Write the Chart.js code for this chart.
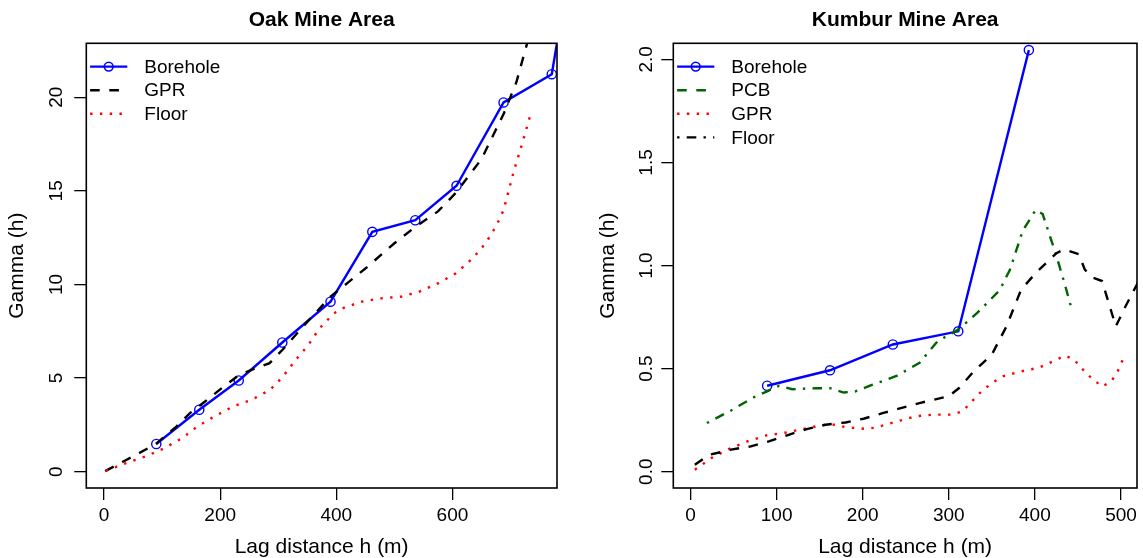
<!DOCTYPE html>
<html>
<head>
<meta charset="utf-8">
<script src="https://cdn.jsdelivr.net/npm/chart.js@4.4.1/dist/chart.umd.min.js"></script>
<style>
  html, body { margin: 0; padding: 0; background: #fff; }
  #wrap { position: relative; width: 1143px; height: 558px; }
  canvas { position: absolute; top: 0; }
</style>
</head>
<body>
<div id="wrap">
  <canvas id="oak" width="571" height="558" style="left:0"></canvas>
  <canvas id="kumbur" width="572" height="558" style="left:571px"></canvas>
</div>
<script>
// ---- Oak Mine Area ----
const oakXTicks = [0, 200, 400, 600];
const oakYTicks = [0, 5, 10, 15, 20];
const oakBoreholeX = [90, 164, 232, 307, 390, 462, 536, 607, 688, 771, 845];
const oakBoreholeY = [1.48, 3.31, 4.87, 6.9, 9.08, 12.81, 13.43, 15.27, 19.72, 21.23, 35];
const oakGprX = [2, 39, 71, 90, 125, 148, 174, 200, 232, 255, 285, 307, 350, 390, 420, 450, 500, 537, 575, 606, 650, 688, 710, 735];
const oakGprY = [0.03, 0.64, 1.17, 1.5, 2.42, 3.13, 3.75, 4.4, 5.15, 5.45, 5.8, 6.5, 8.0, 9.35, 10.1, 10.85, 12.2, 13.1, 13.9, 14.9, 16.7, 19.1, 20.8, 23.6];
const oakFloorX = [3, 38, 72, 104, 135, 160, 185, 223, 254, 286, 308, 330, 352, 371, 396, 411, 443, 477, 512, 543, 575, 606, 635, 657, 675, 688, 697, 706, 716, 725, 735];
const oakFloorY = [0.05, 0.46, 0.82, 1.26, 1.8, 2.4, 2.86, 3.5, 3.84, 4.37, 5.08, 5.97, 6.77, 7.66, 8.46, 8.73, 9.08, 9.26, 9.35, 9.62, 10.06, 10.6, 11.4, 12.2, 13.1, 13.97, 15.03, 16.1, 17.1, 18.06, 19.16];

// ---- Kumbur Mine Area ----
const kumXTicks = [0, 100, 200, 300, 400, 500];
const kumYTicks = [0, 0.5, 1, 1.5, 2];
const kumBoreholeX = [89, 162, 235, 311, 393];
const kumBoreholeY = [0.417, 0.492, 0.617, 0.681, 2.045];
const kumPcbX = [19, 47, 74, 89, 103, 118, 145, 162, 178, 191, 210, 240, 266, 287, 311, 333, 359, 371, 386, 401, 409, 424, 434, 442];
const kumPcbY = [0.236, 0.297, 0.362, 0.39, 0.417, 0.40, 0.405, 0.405, 0.384, 0.389, 0.42, 0.466, 0.528, 0.633, 0.689, 0.77, 0.88, 0.98, 1.17, 1.27, 1.25, 1.06, 0.92, 0.80];
const kumGprX = [5, 15, 24, 45, 66, 88, 111, 134, 157, 168, 180, 203, 214, 240, 262, 283, 304, 316, 325, 338, 350, 363, 384, 405, 425, 435, 445, 461, 478, 488, 495, 504];
const kumGprY = [0.01, 0.039, 0.066, 0.111, 0.147, 0.176, 0.19, 0.21, 0.229, 0.228, 0.216, 0.208, 0.213, 0.244, 0.269, 0.277, 0.277, 0.293, 0.333, 0.39, 0.43, 0.463, 0.487, 0.505, 0.543, 0.563, 0.546, 0.471, 0.413, 0.436, 0.475, 0.562];
const kumFloorX = [5, 22, 47, 70, 91, 114, 135, 157, 180, 201, 224, 266, 300, 312, 329, 350, 367, 384, 401, 425, 434, 451, 458, 468, 478, 494, 505, 520];
const kumFloorY = [0.034, 0.082, 0.107, 0.123, 0.147, 0.179, 0.207, 0.228, 0.239, 0.257, 0.285, 0.333, 0.366, 0.406, 0.487, 0.568, 0.705, 0.883, 0.964, 1.06, 1.078, 1.055, 0.98, 0.94, 0.925, 0.705, 0.80, 0.92];

const FONT = "'Liberation Sans', Arial, Helvetica, sans-serif";
Chart.defaults.font.family = FONT;
Chart.defaults.color = '#000';

const LW = 2.4;
const DASH = [9.6, 9.6];
const DOT = [2.4, 7.4];
const DOTDASH = [2.4, 7.2, 9.6, 7.2];

const pts = (xs, ys) => xs.map((x, i) => ({ x: x, y: ys[i] }));

function line(label, xs, ys, color, dash, order, marker) {
    return {
        label: label,
        data: pts(xs, ys),
        borderColor: color,
        borderWidth: LW,
        borderDash: dash,
        borderCapStyle: 'butt',
        pointRadius: marker ? 4.6 : 0,
        pointBorderWidth: 1.4,
        pointBorderColor: color,
        pointBackgroundColor: 'rgba(0,0,0,0)',
        pointHoverRadius: 0,
        tension: 0,
        fill: false,
        order: order,
        clip: 0
    };
}

// box around the plot region + R style legend inside it
const boxPlugin = {
    id: 'rbox',
    afterDraw(chart) {
        const { ctx, chartArea: a } = chart;
        ctx.save();
        ctx.strokeStyle = '#000';
        ctx.lineWidth = 1.6;
        ctx.setLineDash([]);
        ctx.strokeRect(a.left, a.top, a.right - a.left, a.bottom - a.top);

        const items = chart.options.plugins.rlegend.items;
        items.forEach((it, i) => {
            const y = a.top + 23.3 + i * 23.6;
            const x0 = a.left + 3.8, x1 = a.left + 41;
            ctx.strokeStyle = it.color;
            ctx.lineWidth = LW;
            ctx.setLineDash(it.dash);
            ctx.beginPath();
            ctx.moveTo(x0, y);
            ctx.lineTo(x1, y);
            ctx.stroke();
            if (it.marker) {
                ctx.setLineDash([]);
                ctx.lineWidth = 1.6;
                ctx.beginPath();
                ctx.arc((x0 + x1) / 2, y, 4.4, 0, Math.PI * 2);
                ctx.stroke();
            }
            ctx.fillStyle = '#000';
            ctx.font = '19px ' + FONT;
            ctx.textBaseline = 'middle';
            ctx.textAlign = 'left';
            ctx.fillText(it.label, a.left + 58, y + 1);
        });
        ctx.restore();
    }
};

function makeChart(id, cfg) {
    return new Chart(document.getElementById(id), {
        type: 'line',
        data: { datasets: cfg.datasets },
        options: {
            responsive: false,
            animation: false,
            events: [],
            layout: { padding: { left: 0, right: cfg.padRight, top: 0, bottom: 0 } },
            plugins: {
                legend: { display: false },
                tooltip: { enabled: false },
                title: {
                    display: true,
                    text: cfg.title,
                    fullSize: false,
                    font: { size: 21, weight: 'bold', lineHeight: 1.2 },
                    padding: { top: 8, bottom: 10.1 },
                    color: '#000'
                },
                rlegend: { items: cfg.legend }
            },
            scales: {
                x: {
                    type: 'linear',
                    min: cfg.xMin,
                    max: cfg.xMax,
                    afterFit(s) { s.height = 70; },
                    afterBuildTicks(s) { s.ticks = cfg.xTicks.map(v => ({ value: v })); },
                    border: { display: false },
                    grid: { drawOnChartArea: false, drawTicks: true, tickLength: 12, color: '#000', lineWidth: 1.3 },
                    ticks: { font: { size: 19 }, padding: 4, maxRotation: 0, autoSkip: false, color: '#000' },
                    title: { display: true, text: 'Lag distance h (m)', font: { size: 21, lineHeight: 1 }, padding: { top: 0, bottom: 0 }, color: '#000' }
                },
                y: {
                    type: 'linear',
                    min: cfg.yMin,
                    max: cfg.yMax,
                    afterFit(s) { s.width = cfg.yAxisW; },
                    afterBuildTicks(s) { s.ticks = cfg.yTicks.map(v => ({ value: v })); },
                    border: { display: false },
                    grid: { drawOnChartArea: false, drawTicks: true, tickLength: 12, color: '#000', lineWidth: 1.3 },
                    ticks: {
                        font: { size: 19 }, padding: cfg.yTickPad, minRotation: 90, maxRotation: 90,
                        crossAlign: 'center', autoSkip: false, color: '#000',
                        callback: cfg.yFormat
                    },
                    title: { display: true, text: 'Gamma (h)', font: { size: 21, lineHeight: 1 }, padding: { top: cfg.yTitlePad, bottom: 0 }, color: '#000' }
                }
            }
        },
        plugins: [boxPlugin]
    });
}

makeChart('oak', {
    title: 'Oak Mine Area',
    padRight: 14,
    xMin: -30.5, xMax: 780,
    yMin: -0.87, yMax: 22.88,
    xTicks: oakXTicks, yTicks: oakYTicks,
    yAxisW: 86.3, yTickPad: 6.5, yTitlePad: 6.5,
    yFormat: v => String(v),
    datasets: [
        line('Borehole', oakBoreholeX, oakBoreholeY, '#0000ff', [], 3, true),
        line('GPR', oakGprX, oakGprY, '#000000', DASH, 2, false),
        line('Floor', oakFloorX, oakFloorY, '#ff0000', DOT, 1, false)
    ],
    legend: [
        { label: 'Borehole', color: '#0000ff', dash: [], marker: true },
        { label: 'GPR', color: '#000000', dash: DASH },
        { label: 'Floor', color: '#ff0000', dash: DOT }
    ]
});

makeChart('kumbur', {
    title: 'Kumbur Mine Area',
    padRight: 2,
    xMin: -20, xMax: 518.6,
    yMin: -0.079, yMax: 2.078,
    xTicks: kumXTicks, yTicks: kumYTicks,
    yAxisW: 102.3, yTickPad: 1.2, yTitlePad: 26.5,
    yFormat: v => v.toFixed(1),
    datasets: [
        line('Borehole', kumBoreholeX, kumBoreholeY, '#0000ff', [], 4, true),
        line('PCB', kumPcbX, kumPcbY, '#006400', DOTDASH, 3, false),
        line('GPR', kumGprX, kumGprY, '#ff0000', DOT, 2, false),
        line('Floor', kumFloorX, kumFloorY, '#000000', DASH, 1, false)
    ],
    legend: [
        { label: 'Borehole', color: '#0000ff', dash: [], marker: true },
        { label: 'PCB', color: '#006400', dash: DASH },
        { label: 'GPR', color: '#ff0000', dash: DOT },
        { label: 'Floor', color: '#000000', dash: DOTDASH }
    ]
});
</script>
</body>
</html>
